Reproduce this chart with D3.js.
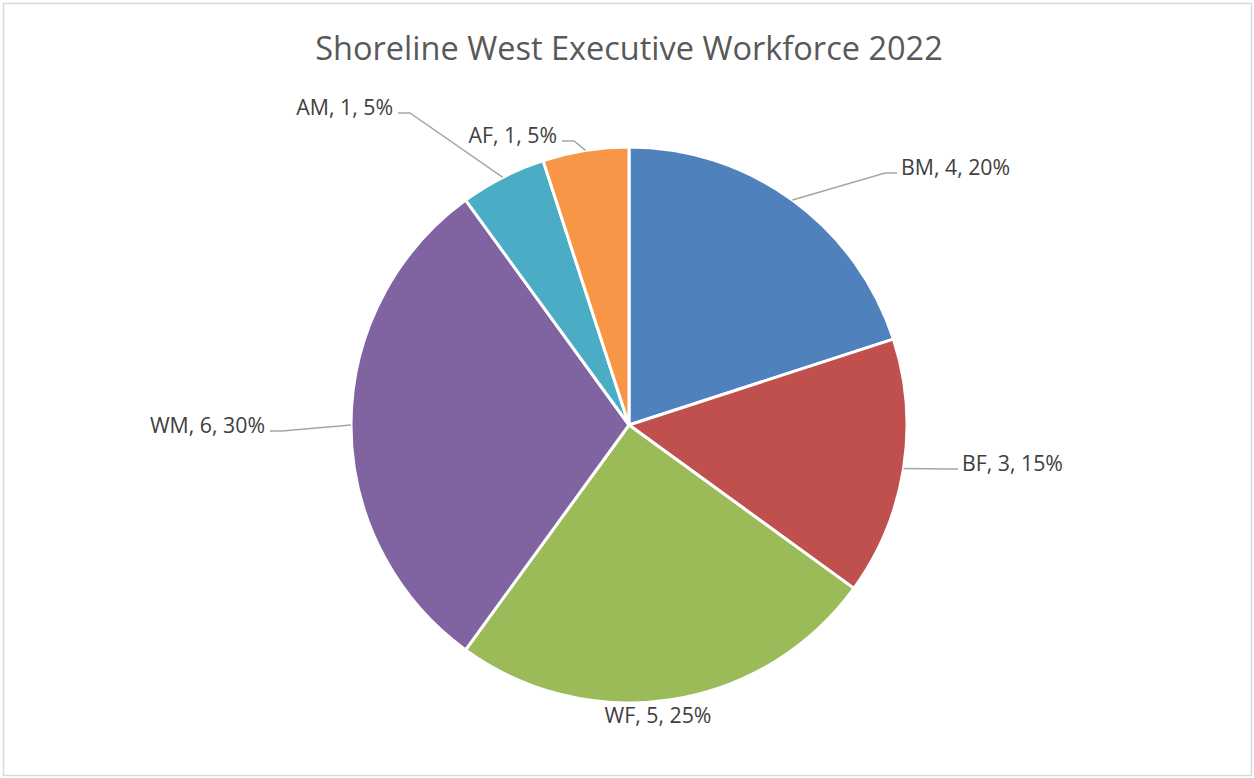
<!DOCTYPE html>
<html>
<head>
<meta charset="utf-8">
<script src="https://cdn.jsdelivr.net/npm/d3@7"></script>
<style>
  body { margin: 0; background: #fff; }
  text { font-family: "Open Sans", sans-serif; }
</style>
</head>
<body>
<div id="chart"></div>
<script>
// chart data
var categories = ["BM", "BF", "WF", "WM", "AM", "AF"];
var counts = [4, 3, 5, 6, 1, 1];
var colors = ["#4F81BD", "#C0504D", "#9BBB59", "#8064A2", "#4BACC6", "#F79646"];
var title = "Shoreline West Executive Workforce 2022";

// where each label sits (elbow of leader line), relative to pie centre
var labelElbow = [[256, -252], [317, 44], [29, 298], [-347, 6], [-219, -312], [-55, -284]];

const width = 1254, height = 778;
const cx = 629, cy = 425, radius = 278;

const svg = d3.select("#chart")
    .append("svg")
    .attr("width", width)
    .attr("height", height);

svg.append("rect")
    .attr("x", 3.5).attr("y", 3.5)
    .attr("width", 1248).attr("height", 772)
    .attr("fill", "#fff")
    .attr("stroke", "#d9d9d9")
    .attr("stroke-width", 1.5);

svg.append("text")
    .attr("x", cx)
    .attr("y", 60)
    .attr("text-anchor", "middle")
    .attr("fill", "#595959")
    .attr("font-size", 32.5)
    .text(title);

const total = d3.sum(counts);
const pie = d3.pie().sort(null).value(d => d.value);
const arc = d3.arc().innerRadius(0).outerRadius(radius);

const data = categories.map((c, i) => ({ name: c, value: counts[i], color: colors[i], elbow: labelElbow[i] }));
const arcs = pie(data);

const g = svg.append("g").attr("transform", `translate(${cx}, ${cy})`);

g.selectAll(".slice")
    .data(arcs)
    .join("path")
    .attr("class", "slice")
    .attr("d", arc)
    .attr("fill", d => d.data.color)
    .attr("stroke", "#fff")
    .attr("stroke-width", 3)
    .attr("stroke-linejoin", "round");

const fs = 21.3;

// labels + leader lines
arcs.forEach(function(d) {
    const mid = (d.startAngle + d.endAngle) / 2;
    const ex = radius * Math.sin(mid), ey = -radius * Math.cos(mid);
    const [lx, ly] = d.data.elbow;
    const right = Math.sin(mid) >= 0;
    const label = `${d.data.name}, ${d.data.value}, ${Math.round(d.data.value / total * 100)}%`;

    if (d.data.name === "WF") {
        g.append("text")
            .attr("x", lx).attr("y", ly)
            .attr("text-anchor", "middle")
            .attr("fill", "#404040")
            .attr("font-size", fs)
            .text(label);
        return;
    }

    const hx = lx + (right ? 12 : -12);
    g.append("polyline")
        .attr("points", `${ex},${ey} ${lx},${ly} ${hx},${ly}`)
        .attr("fill", "none")
        .attr("stroke", "#a6a6a6")
        .attr("stroke-width", 1.5);

    g.append("text")
        .attr("x", hx + (right ? 4 : -5))
        .attr("y", ly + 2)
        .attr("text-anchor", right ? "start" : "end")
        .attr("fill", "#404040")
        .attr("font-size", fs)
        .text(label);
});
</script>
</body>
</html>
